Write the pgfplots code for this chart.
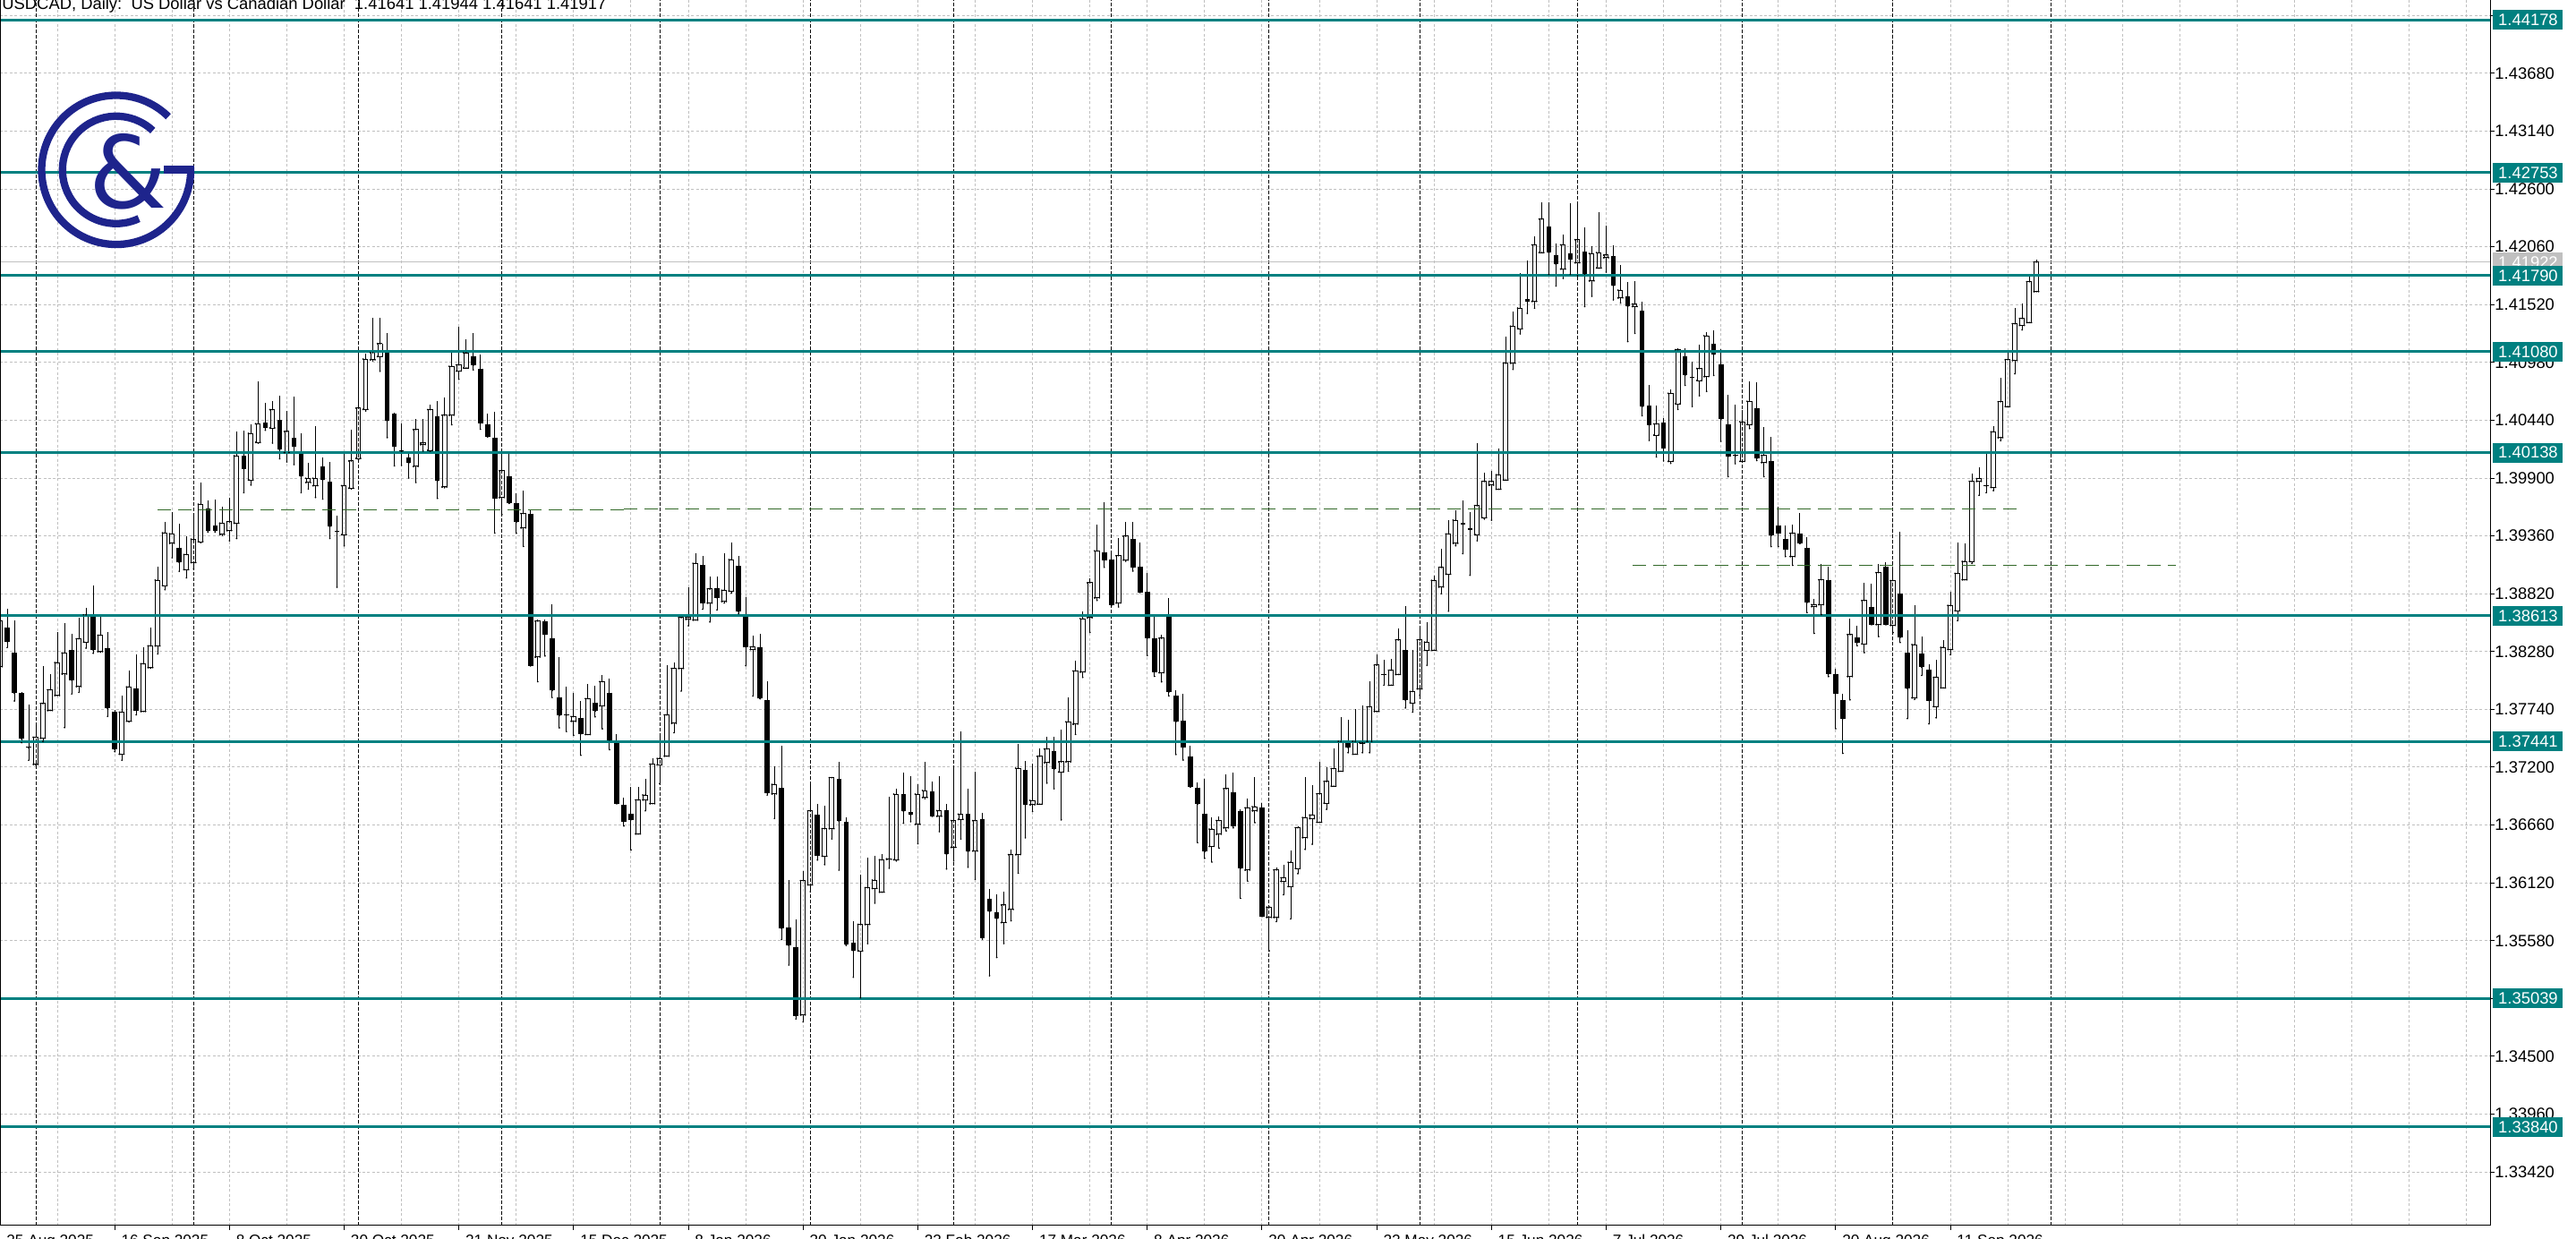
\documentclass[border=0pt]{standalone}
\usepackage{pgfplots}
\pgfplotsset{compat=1.18}
\usepackage{pgfplotstable}
\usepackage{fontspec}
\setmainfont{Liberation Sans}
\newfontfamily\logofont{DejaVu Sans}
\definecolor{tealc}{RGB}{0,128,128}
\definecolor{gridc}{RGB}{192,192,192}
\definecolor{lvlgreen}{RGB}{50,105,40}
\definecolor{logoc}{RGB}{30,36,140}
\definecolor{bidc}{RGB}{192,192,192}

\pgfplotstableread{
x o h l c
0 1.38139 1.38617 1.38109 1.38567
5 1.37226 1.37615 1.37220 1.37480
6 1.37471 1.38148 1.37441 1.37794
7 1.37729 1.38070 1.37729 1.37923
8 1.37869 1.38459 1.37869 1.38177
9 1.38070 1.38543 1.37570 1.38267
11 1.37953 1.38596 1.37899 1.38399
12 1.38369 1.38692 1.38312 1.38623
14 1.38279 1.38632 1.38273 1.38432
17 1.37322 1.37869 1.37265 1.37714
18 1.37630 1.38100 1.37624 1.37950
20 1.37720 1.38318 1.37720 1.38166
21 1.38130 1.38504 1.38124 1.38333
22 1.38333 1.39072 1.38258 1.38947
23 1.38896 1.39491 1.38857 1.39389
24 1.39291 1.39581 1.39156 1.39380
26 1.39045 1.39360 1.38968 1.39186
27 1.39111 1.39575 1.39051 1.39330
28 1.39306 1.39859 1.39297 1.39656
31 1.39374 1.39629 1.39365 1.39479
32 1.39410 1.39716 1.39315 1.39491
33 1.39479 1.40338 1.39336 1.40108
35 1.39883 1.40398 1.39835 1.40317
36 1.40233 1.40799 1.40227 1.40407
38 1.40368 1.40622 1.40227 1.40539
40 1.40138 1.40524 1.40051 1.40335
43 1.39859 1.40045 1.39799 1.39898
44 1.39829 1.40389 1.39719 1.39898
48 1.39371 1.40129 1.39267 1.39829
49 1.39805 1.40353 1.39799 1.40060
50 1.40084 1.41062 1.40069 1.40554
51 1.40542 1.41062 1.40527 1.41011
52 1.41005 1.41400 1.40996 1.41071
53 1.41035 1.41400 1.40898 1.41155
58 1.40009 1.40452 1.39859 1.40353
59 1.40212 1.40452 1.40153 1.40227
60 1.40159 1.40582 1.40152 1.40540
62 1.39817 1.40653 1.39810 1.40487
63 1.40487 1.41070 1.40399 1.40944
64 1.40900 1.41317 1.40822 1.40957
65 1.40928 1.41193 1.40928 1.41070
70 1.39718 1.40152 1.39559 1.39968
73 1.39435 1.39781 1.39262 1.39569
75 1.38228 1.38581 1.37999 1.38564
80 1.37628 1.37893 1.37498 1.37674
82 1.37505 1.37981 1.37505 1.37840
84 1.37773 1.38059 1.37558 1.37999
89 1.36576 1.37013 1.36576 1.36894
90 1.36894 1.37088 1.36792 1.36940
91 1.36859 1.37285 1.36859 1.37229
92 1.37222 1.37487 1.37046 1.37282
93 1.37303 1.38151 1.37303 1.37688
94 1.37610 1.38175 1.37522 1.38122
95 1.38122 1.38617 1.37911 1.38597
96 1.38581 1.38881 1.38521 1.38598
97 1.38574 1.39199 1.38574 1.39104
99 1.38733 1.38980 1.38556 1.38864
101 1.38747 1.39199 1.38733 1.38853
102 1.38846 1.39294 1.38828 1.39139
105 1.38299 1.38429 1.37865 1.38323
108 1.36950 1.37205 1.36721 1.37039
112 1.34886 1.36233 1.34821 1.36140
113 1.36101 1.37029 1.36037 1.36791
115 1.36369 1.36838 1.36290 1.36626
116 1.36626 1.37102 1.36530 1.37102
120 1.35485 1.36194 1.35046 1.35731
121 1.35731 1.36359 1.35553 1.36074
122 1.36067 1.36376 1.35930 1.36146
123 1.36033 1.36386 1.36033 1.36335
124 1.36340 1.36924 1.36256 1.36344
125 1.36335 1.36999 1.36324 1.36948
128 1.36667 1.37044 1.36486 1.36948
129 1.36917 1.37250 1.36907 1.36982
131 1.36742 1.37119 1.36598 1.36794
133 1.36451 1.37191 1.36324 1.36701
134 1.36712 1.37537 1.36530 1.36760
136 1.36417 1.37157 1.36153 1.36701
140 1.35749 1.36040 1.35553 1.35913
141 1.35872 1.36427 1.35766 1.36383
142 1.36383 1.37414 1.36211 1.37191
144 1.36849 1.37233 1.36787 1.36890
145 1.36855 1.37376 1.36855 1.37301
146 1.37243 1.37483 1.37051 1.37370
148 1.37155 1.37548 1.36708 1.37250
149 1.37250 1.37849 1.37164 1.37624
150 1.37602 1.38192 1.37507 1.38099
151 1.38089 1.38654 1.38038 1.38587
152 1.38596 1.38963 1.38459 1.38922
153 1.38781 1.39467 1.38757 1.39220
156 1.38733 1.39340 1.38696 1.39175
157 1.39134 1.39494 1.39124 1.39357
162 1.38082 1.38439 1.37997 1.38404
169 1.36461 1.36735 1.36314 1.36622
170 1.36574 1.36742 1.36444 1.36701
171 1.36633 1.37136 1.36605 1.36999
174 1.36239 1.36907 1.36136 1.36821
175 1.36792 1.37105 1.36682 1.36831
177 1.35797 1.35894 1.35485 1.35894
178 1.35797 1.36264 1.35759 1.36240
179 1.36134 1.36288 1.36009 1.36168
180 1.36086 1.36422 1.35783 1.36312
181 1.36254 1.36648 1.36206 1.36634
182 1.36542 1.37105 1.36432 1.36730
183 1.36720 1.37033 1.36480 1.36754
184 1.36686 1.37249 1.36686 1.36951
185 1.36864 1.37201 1.36807 1.37066
186 1.37023 1.37379 1.37023 1.37186
187 1.37162 1.37672 1.37162 1.37441
189 1.37321 1.37739 1.37321 1.37441
190 1.37425 1.37777 1.37335 1.37429
191 1.37441 1.38003 1.37335 1.37763
192 1.37720 1.38249 1.37720 1.38153
194 1.37966 1.38208 1.37966 1.38104
195 1.38066 1.38498 1.38066 1.38388
197 1.37801 1.38296 1.37715 1.37907
198 1.37931 1.38508 1.37874 1.38388
199 1.38292 1.38556 1.38152 1.38369
200 1.38292 1.38989 1.38292 1.38945
201 1.38883 1.39243 1.38820 1.39065
202 1.39003 1.39507 1.38657 1.39378
203 1.39291 1.39603 1.39267 1.39507
206 1.39373 1.40228 1.39315 1.39642
207 1.39531 1.39954 1.39517 1.39868
208 1.39834 1.39964 1.39507 1.39868
209 1.39796 1.40180 1.39796 1.39930
210 1.39882 1.41223 1.39882 1.40973
211 1.40973 1.41454 1.40915 1.41319
212 1.41295 1.41814 1.41247 1.41487
214 1.41550 1.42160 1.41487 1.42078
215 1.42006 1.42477 1.42006 1.42319
218 1.41852 1.42174 1.41766 1.42078
220 1.41910 1.42463 1.41790 1.42126
222 1.41742 1.42064 1.41598 1.41997
223 1.41862 1.42381 1.41862 1.42006
224 1.41958 1.42261 1.41824 1.41982
226 1.41583 1.41886 1.41535 1.41655
228 1.41502 1.41742 1.41252 1.41526
231 1.40300 1.40574 1.40098 1.40406
233 1.40056 1.40729 1.40037 1.40691
234 1.40594 1.41110 1.40542 1.41099
237 1.40811 1.41147 1.40669 1.40923
238 1.40848 1.41267 1.40710 1.41229
243 1.40056 1.40538 1.40056 1.40426
244 1.40400 1.40803 1.40363 1.40617
246 1.40045 1.40374 1.39914 1.40112
250 1.39167 1.39466 1.39085 1.39384
253 1.38700 1.38775 1.38450 1.38718
254 1.38718 1.39100 1.38625 1.38950
258 1.38046 1.38588 1.37829 1.38438
260 1.38352 1.38924 1.38270 1.38756
262 1.38532 1.39100 1.38420 1.39017
264 1.38524 1.39073 1.38457 1.38943
267 1.37848 1.38711 1.37833 1.38345
270 1.37766 1.38203 1.37661 1.38039
271 1.37941 1.38390 1.37941 1.38319
272 1.38300 1.38838 1.38251 1.38711
273 1.38662 1.39298 1.38569 1.39010
274 1.38950 1.39287 1.38950 1.39122
275 1.39122 1.39944 1.39103 1.39869
276 1.39869 1.40000 1.39739 1.39895
278 1.39813 1.40381 1.39783 1.40333
279 1.40277 1.40837 1.40250 1.40613
280 1.40568 1.41091 1.40568 1.41005
281 1.40998 1.41491 1.40874 1.41341
282 1.41326 1.41532 1.41285 1.41390
283 1.41353 1.41782 1.41353 1.41734
284 1.41641 1.41944 1.41641 1.41917
}\bull

\pgfplotstableread{
x o h l c
1 1.38504 1.38677 1.38318 1.38372
2 1.38267 1.38572 1.37818 1.37890
3 1.37890 1.37899 1.37429 1.37465
4 1.37385 1.37788 1.37265 1.37380
10 1.38291 1.38444 1.37884 1.38013
13 1.38602 1.38893 1.38264 1.38294
15 1.38315 1.38459 1.37675 1.37749
16 1.37714 1.37735 1.37345 1.37366
19 1.37938 1.38252 1.37690 1.37729
25 1.39246 1.39476 1.39030 1.39111
29 1.39620 1.39695 1.39395 1.39404
30 1.39455 1.39701 1.39395 1.39404
34 1.40105 1.40347 1.39764 1.39985
37 1.40419 1.40601 1.40347 1.40368
39 1.40446 1.40673 1.40081 1.40165
41 1.40278 1.40661 1.40027 1.40194
42 1.40150 1.40317 1.39764 1.39913
45 1.40009 1.40090 1.39704 1.39883
46 1.39868 1.40048 1.39336 1.39446
47 1.39404 1.39545 1.38881 1.39400
54 1.41071 1.41257 1.40278 1.40434
55 1.40503 1.40509 1.40015 1.40194
56 1.40152 1.40413 1.40018 1.40148
57 1.40093 1.40144 1.39901 1.40039
61 1.40477 1.40621 1.39711 1.39874
66 1.41041 1.41257 1.40911 1.40953
67 1.40918 1.41052 1.40357 1.40413
68 1.40399 1.40498 1.40286 1.40286
69 1.40275 1.40522 1.39386 1.39711
71 1.39919 1.40124 1.39665 1.39665
72 1.39665 1.39757 1.39386 1.39488
74 1.39569 1.39605 1.38147 1.38147
76 1.38564 1.38581 1.38239 1.38440
77 1.38405 1.38722 1.37851 1.37915
78 1.37851 1.38228 1.37568 1.37681
79 1.37690 1.37956 1.37533 1.37686
81 1.37656 1.37822 1.37311 1.37512
83 1.37805 1.37963 1.37670 1.37723
85 1.37893 1.38027 1.37364 1.37452
86 1.37441 1.37512 1.36859 1.36859
87 1.36852 1.36912 1.36651 1.36693
88 1.36763 1.37013 1.36428 1.36710
98 1.39093 1.39171 1.38676 1.38733
100 1.38871 1.38977 1.38669 1.38782
103 1.39082 1.39171 1.38634 1.38652
104 1.38606 1.38786 1.38147 1.38323
106 1.38316 1.38447 1.37840 1.37840
107 1.37829 1.37999 1.36940 1.36958
109 1.37009 1.37401 1.35590 1.35693
110 1.35707 1.36149 1.35352 1.35534
111 1.35520 1.35780 1.34849 1.34877
114 1.36756 1.36859 1.36333 1.36375
117 1.37095 1.37250 1.36239 1.36694
118 1.36691 1.36729 1.35536 1.35543
119 1.35560 1.35759 1.35238 1.35485
126 1.36948 1.37147 1.36677 1.36787
127 1.36780 1.37112 1.36691 1.36753
130 1.36975 1.37068 1.36742 1.36742
132 1.36797 1.36855 1.36249 1.36386
135 1.36763 1.36999 1.36266 1.36410
137 1.36712 1.36770 1.35594 1.35605
138 1.35971 1.36060 1.35252 1.35851
139 1.35845 1.36016 1.35423 1.35783
143 1.37171 1.37256 1.36540 1.36849
147 1.37346 1.37483 1.36999 1.37181
154 1.39210 1.39672 1.39066 1.39134
155 1.39141 1.39186 1.38706 1.38716
158 1.39330 1.39487 1.39032 1.39066
159 1.39076 1.39295 1.38833 1.38833
160 1.38836 1.39014 1.38243 1.38404
161 1.38404 1.38603 1.38048 1.38089
163 1.38603 1.38781 1.37866 1.37901
164 1.37866 1.37918 1.37318 1.37626
165 1.37633 1.37883 1.37267 1.37387
166 1.37301 1.37397 1.37016 1.37016
167 1.37010 1.37061 1.36496 1.36855
168 1.36763 1.37095 1.36348 1.36410
172 1.36965 1.37147 1.36633 1.36650
173 1.36794 1.36804 1.35975 1.36256
176 1.36826 1.36864 1.35807 1.35807
188 1.37427 1.37643 1.37335 1.37383
193 1.38068 1.38200 1.37966 1.38064
196 1.38292 1.38705 1.37753 1.37826
204 1.39483 1.39690 1.39195 1.39469
205 1.39423 1.39579 1.38993 1.39419
213 1.41574 1.41934 1.41439 1.41550
216 1.42246 1.42477 1.41804 1.42006
217 1.41982 1.42088 1.41694 1.41896
219 1.41997 1.42463 1.41804 1.41944
221 1.42016 1.42237 1.41502 1.41804
225 1.41973 1.42078 1.41564 1.41694
227 1.41598 1.41727 1.41175 1.41502
229 1.41463 1.41550 1.40483 1.40565
230 1.40579 1.40766 1.40252 1.40396
232 1.40420 1.40459 1.40060 1.40180
235 1.41035 1.41110 1.40766 1.40859
236 1.40843 1.40990 1.40568 1.40839
239 1.41155 1.41278 1.40859 1.41054
240 1.40960 1.41102 1.40243 1.40448
241 1.40400 1.40680 1.39914 1.40101
242 1.40110 1.40587 1.40034 1.40106
245 1.40549 1.40792 1.40064 1.40082
247 1.40056 1.40288 1.39260 1.39361
248 1.39458 1.39634 1.39260 1.39384
249 1.39335 1.39458 1.39167 1.39234
251 1.39384 1.39578 1.39290 1.39290
252 1.39249 1.39346 1.38644 1.38737
255 1.38943 1.39073 1.38046 1.38072
256 1.38072 1.38121 1.37560 1.37889
257 1.37829 1.37889 1.37329 1.37654
259 1.38412 1.38524 1.38334 1.38364
261 1.38700 1.38913 1.38532 1.38532
263 1.39073 1.39111 1.38532 1.38532
265 1.38823 1.39398 1.38364 1.38412
266 1.38270 1.38476 1.37654 1.37934
268 1.38263 1.38420 1.38057 1.38132
269 1.38113 1.38158 1.37605 1.37822
277 1.39830 1.40127 1.39765 1.39826
}\bear

\tikzset{lvlbox/.style={fill=tealc, text=white, inner sep=0pt, minimum width=39pt, minimum height=11pt, anchor=west, font=\fontsize{9.2}{10}\selectfont}}
% error-bar strokes only: the marks are made invisible
\pgfplotsset{
  vbar/.style={only marks, mark=*, mark size=0.2pt, mark options={draw=none, fill=none}, forget plot,
    error bars/.cd, y dir=plus, y explicit, error mark=none, error bar style={draw=black, line width=#1}},
  hbar/.style={only marks, mark=*, mark size=0.2pt, mark options={draw=none, fill=none}, forget plot,
    error bars/.cd, x dir=plus, x explicit, error mark=none, error bar style={draw=black, line width=#1}},
}

\begin{document}
\begin{tikzpicture}
\begin{axis}[
  name=ax, at={(0pt,7.5pt)}, anchor=south west,
  scale only axis, width=1391pt, height=684.5pt,
  xmin=0, xmax=347.27, ymin=1.32919, ymax=1.44365,
  enlargelimits=false,
  axis line style={draw=none},
  tick align=outside, major tick length=2.5pt, minor tick length=0pt,
  tick style={black, line width=0.5pt},
  xtick pos=left, xticklabel pos=left,
  ytick pos=right, yticklabel pos=right,
  xtick={0,16,...,272},
  xticklabels={25 Aug 2025,16 Sep 2025,8 Oct 2025,30 Oct 2025,21 Nov 2025,15 Dec 2025,8 Jan 2026,30 Jan 2026,23 Feb 2026,17 Mar 2026,8 Apr 2026,30 Apr 2026,22 May 2026,15 Jun 2026,7 Jul 2026,29 Jul 2026,20 Aug 2026,11 Sep 2026},
  minor xtick={8,24,...,344,288,304,320,336},
  ytick={1.3342,1.3396,1.345,1.3504,1.3558,1.3612,1.3666,1.372,1.3774,1.3828,1.3882,1.3936,1.399,1.4044,1.4098,1.4152,1.4206,1.426,1.4314,1.4368,1.4422},
  yticklabels={1.33420,1.33960,1.34500,{},1.35580,1.36120,1.36660,1.37200,1.37740,1.38280,1.38820,1.39360,1.39900,1.40440,1.40980,1.41520,1.42060,1.42600,1.43140,1.43680,{}},
  grid=both,
  major grid style={gridc, line width=0.5pt, dash pattern=on 1.5pt off 1.2pt},
  minor grid style={gridc, line width=0.5pt, dash pattern=on 1.5pt off 1.2pt},
  extra x ticks={5,27,50,70,92,113,133,155,177,198,220,243,264,286},
  extra x tick labels={},
  extra x tick style={grid=major, major grid style={black, line width=0.5pt, dash pattern=on 1.75pt off 1.25pt}, major tick length=0pt},
  xticklabel style={anchor=north west, inner sep=0pt, xshift=3.5pt, yshift=-2.5pt, font=\fontsize{8.6}{10}\selectfont},
  yticklabel style={anchor=west, inner sep=0pt, font=\fontsize{9.2}{10}\selectfont},
]
% bid line
\addplot[bidc, line width=0.5pt, forget plot] coordinates {(0,1.41917) (347.27,1.41917)};
% bearish candles: wick low-high, solid body close-open
\addplot[vbar=0.5pt] table[x=x, y=l, y error expr=\thisrow{h}-\thisrow{l}] {\bear};
\addplot[vbar=2.8pt] table[x=x, y=c, y error expr={max(\thisrow{o}-\thisrow{c},0.00009)}] {\bear};
% bullish candles: wick below and above the hollow body
\addplot[vbar=0.5pt] table[x=x, y=l, y error expr=\thisrow{o}-\thisrow{l}] {\bull};
\addplot[vbar=0.5pt] table[x=x, y=c, y error expr=\thisrow{h}-\thisrow{c}] {\bull};
% hollow body: two sides, bottom and top
\addplot[vbar=0.5pt] table[x expr=\thisrow{x}-0.3, y=o, y error expr=\thisrow{c}-\thisrow{o}] {\bull};
\addplot[vbar=0.5pt] table[x expr=\thisrow{x}+0.3, y=o, y error expr=\thisrow{c}-\thisrow{o}] {\bull};
\addplot[hbar=0.5pt] table[x expr=\thisrow{x}-0.36, y=o, x error expr=0.72] {\bull};
\addplot[hbar=0.5pt] table[x expr=\thisrow{x}-0.36, y=c, x error expr=0.72] {\bull};
% green dashed levels
\addplot[lvlgreen, line width=0.6pt, dash pattern=on 7.5pt off 4pt, forget plot] coordinates {(22,1.39604) (87,1.39604)};
\addplot[lvlgreen, line width=0.6pt, dash pattern=on 7.5pt off 4pt, forget plot] coordinates {(87,1.39612) (281.6,1.39612)};
\addplot[lvlgreen, line width=0.6pt, dash pattern=on 7.5pt off 4pt, forget plot] coordinates {(227.7,1.39083) (303.5,1.39083)};
% teal levels
\addplot[tealc, line width=1.5pt, forget plot] coordinates {(0,1.44178) (347.27,1.44178)};
\addplot[tealc, line width=1.5pt, forget plot] coordinates {(0,1.42753) (347.27,1.42753)};
\addplot[tealc, line width=1.5pt, forget plot] coordinates {(0,1.41790) (347.27,1.41790)};
\addplot[tealc, line width=1.5pt, forget plot] coordinates {(0,1.41080) (347.27,1.41080)};
\addplot[tealc, line width=1.5pt, forget plot] coordinates {(0,1.40138) (347.27,1.40138)};
\addplot[tealc, line width=1.5pt, forget plot] coordinates {(0,1.38613) (347.27,1.38613)};
\addplot[tealc, line width=1.5pt, forget plot] coordinates {(0,1.37441) (347.27,1.37441)};
\addplot[tealc, line width=1.5pt, forget plot] coordinates {(0,1.35039) (347.27,1.35039)};
\addplot[tealc, line width=1.5pt, forget plot] coordinates {(0,1.33840) (347.27,1.33840)};
\coordinate (g0) at (axis cs:347.27,1.41917);
\coordinate (q1) at (axis cs:347.27,1.44178);
\coordinate (q2) at (axis cs:347.27,1.42753);
\coordinate (q3) at (axis cs:347.27,1.41790);
\coordinate (q4) at (axis cs:347.27,1.41080);
\coordinate (q5) at (axis cs:347.27,1.40138);
\coordinate (q6) at (axis cs:347.27,1.38613);
\coordinate (q7) at (axis cs:347.27,1.37441);
\coordinate (q8) at (axis cs:347.27,1.35039);
\coordinate (q9) at (axis cs:347.27,1.33840);
\end{axis}
% frame
\draw[black, line width=0.5pt] ([xshift=0.25pt]ax.north west) -- ([xshift=0.25pt]ax.south west);
\draw[black, line width=0.5pt] (ax.south west) -- (ax.south east) -- (ax.north east);
% price boxes
\node[lvlbox, fill=bidc] at ([xshift=1.5pt]g0) {1.41922};
\foreach \c/\t in {q1/1.44178,q2/1.42753,q3/1.41790,q4/1.41080,q5/1.40138,q6/1.38613,q7/1.37441,q8/1.35039,q9/1.33840}
  \node[lvlbox] at ([xshift=1.5pt]\c) {\t};
% title
\node[anchor=base west, inner sep=0pt, font=\fontsize{9.2}{11}\selectfont] at (1pt,686.5pt) {USDCAD, Daily:\ \ US Dollar vs Canadian Dollar\ \ 1.41641 1.41944 1.41641 1.41917};
% logo
\begin{scope}[shift={(64.9pt,597.1pt)}]
  \draw[logoc, line width=4.15pt] (45.6:41.65pt) arc[start angle=45.6, end angle=362, radius=41.65pt];
  \fill[logoc] (26.75pt,-2.25pt) rectangle (43.75pt,2.25pt);
  \draw[logoc, line width=4.15pt] (47:30pt) arc[start angle=47, end angle=295, radius=30pt];
  \node[text=logoc, inner sep=0pt, font=\logofont\fontsize{56}{56}\selectfont] at (6.5pt,-1pt) {\&};
\end{scope}
\pgfresetboundingbox
\path[use as bounding box] (0,0) rectangle (1439pt,692pt);
\end{tikzpicture}
\end{document}
